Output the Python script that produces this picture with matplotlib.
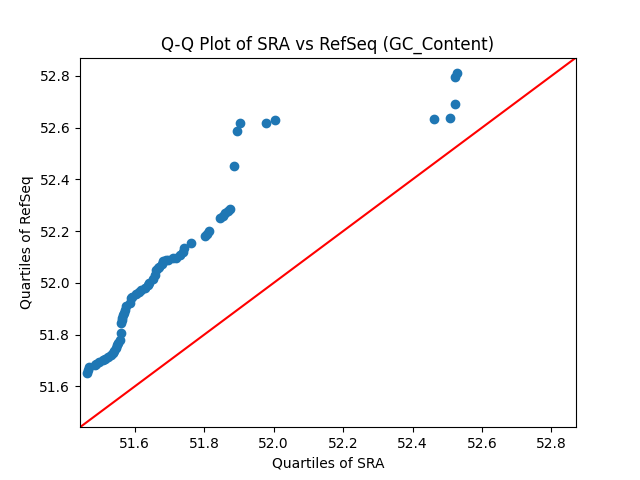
import numpy as np
import matplotlib
matplotlib.use("Agg")
import matplotlib.pyplot as plt

# quantiles
sra_q = [51.463, 51.465, 51.469, 51.484, 51.489, 51.498, 51.507, 51.515, 51.522, 51.530,
         51.537, 51.541, 51.546, 51.550, 51.551, 51.556, 51.559, 51.561, 51.563, 51.564,
         51.566, 51.568, 51.573, 51.575, 51.585, 51.590, 51.593, 51.604, 51.611, 51.618,
         51.628, 51.637, 51.642, 51.652, 51.657, 51.662, 51.666, 51.671, 51.677, 51.681,
         51.689, 51.695, 51.710, 51.720, 51.729, 51.739, 51.743, 51.763, 51.801, 51.807,
         51.814, 51.844, 51.853, 51.859, 51.868, 51.873, 51.886, 51.893, 51.902, 51.977,
         52.004, 52.462, 52.508, 52.521, 52.523, 52.528]
refseq_q = [51.652, 51.665, 51.675, 51.684, 51.688, 51.695, 51.703, 51.707, 51.715, 51.722,
            51.729, 51.738, 51.748, 51.761, 51.768, 51.780, 51.807, 51.845, 51.858, 51.864,
            51.877, 51.884, 51.896, 51.909, 51.923, 51.941, 51.946, 51.958, 51.966, 51.974,
            51.980, 51.993, 51.999, 52.016, 52.031, 52.051, 52.058, 52.063, 52.074, 52.083,
            52.087, 52.089, 52.096, 52.097, 52.109, 52.121, 52.135, 52.156, 52.182, 52.188,
            52.199, 52.250, 52.259, 52.270, 52.277, 52.285, 52.451, 52.588, 52.620, 52.620,
            52.629, 52.633, 52.637, 52.692, 52.795, 52.810]

# shared axis range (square)
lims = [51.442, 52.871]

fig, ax = plt.subplots(figsize=(6.4, 4.8), dpi=100)
ax.scatter(sra_q, refseq_q)
ax.plot(lims, lims, color="red")
ax.set_xlim(lims)
ax.set_ylim(lims)
ax.set_title("Q-Q Plot of SRA vs RefSeq (GC_Content)")
ax.set_xlabel("Quartiles of SRA")
ax.set_ylabel("Quartiles of RefSeq")

plt.savefig("out.png")
